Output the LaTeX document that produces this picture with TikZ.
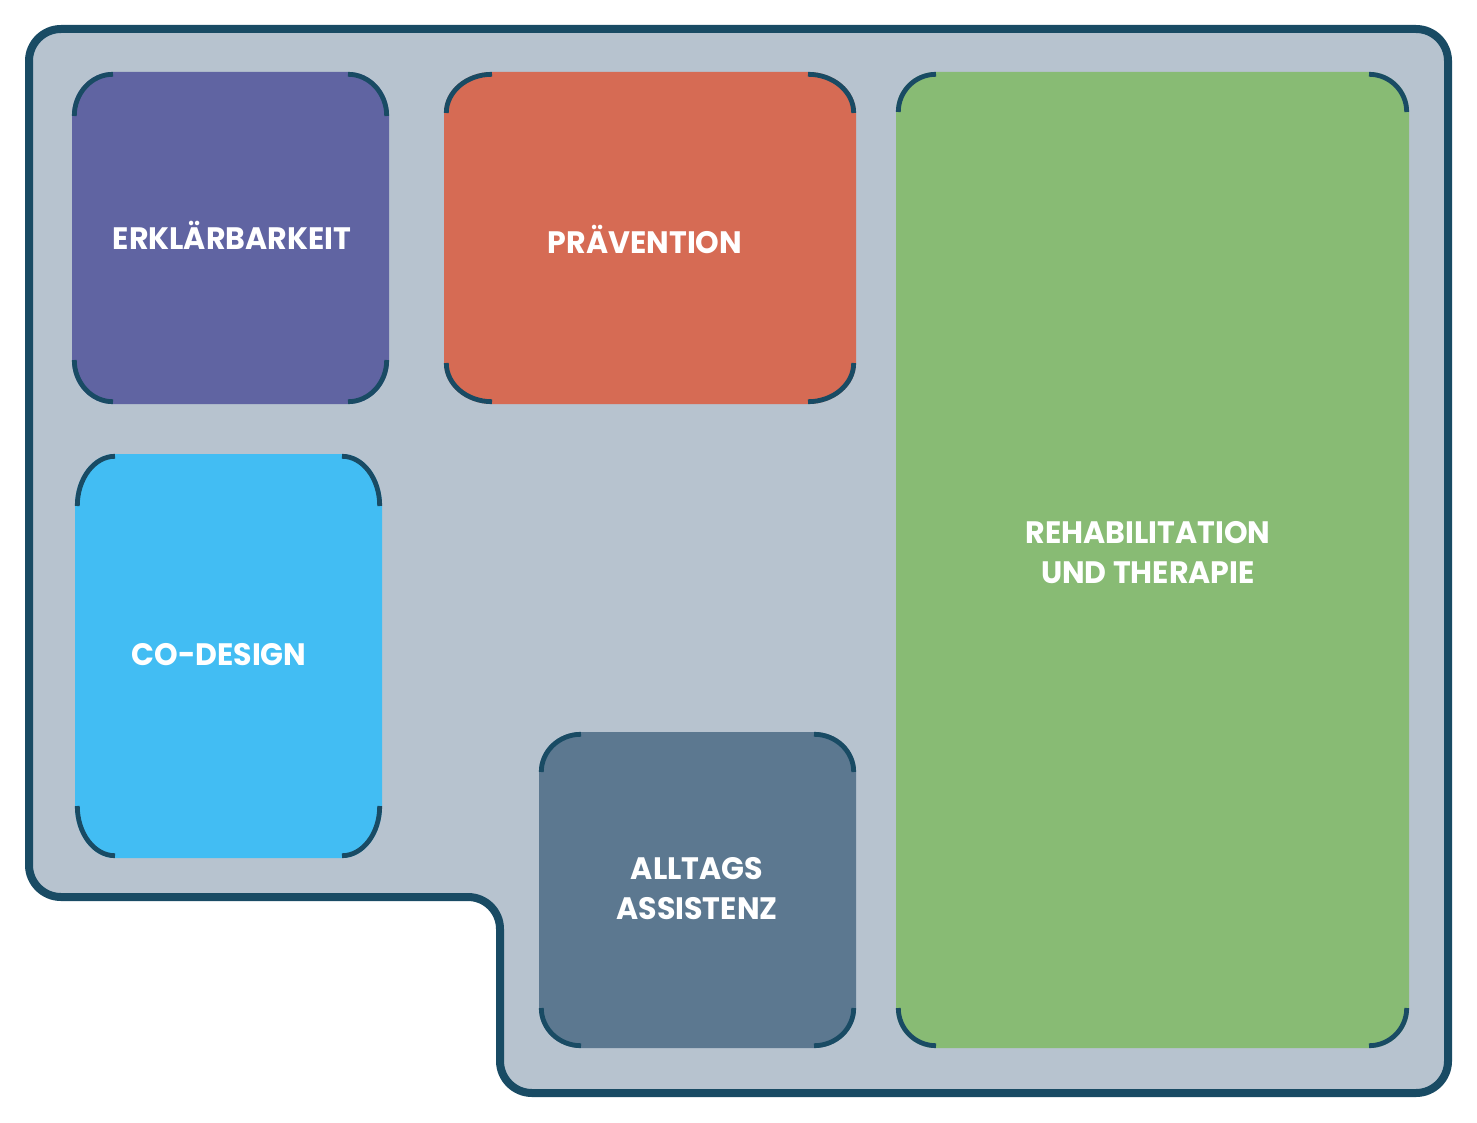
\documentclass[tikz,border=0pt]{standalone}
\usepackage{fontspec}
\newfontfamily\labfont{Poppins}
\definecolor{bgray}{RGB}{183,195,207}
\definecolor{dblue}{RGB}{25,75,100}
\definecolor{cpurple}{RGB}{96,100,162}
\definecolor{corange}{RGB}{214,107,84}
\definecolor{cgreen}{RGB}{136,187,116}
\definecolor{clblue}{RGB}{66,189,243}
\definecolor{cslate}{RGB}{92,120,144}
\tikzset{
  outline/.style={draw=dblue,fill=bgray,line width=8pt,rounded corners=32pt},
  bracket/.style={draw=dblue,line width=4.8pt},
  lab/.style={text=white,font=\labfont\bfseries\fontsize{31}{40}\selectfont,align=center,inner sep=0pt,xscale=0.97}
}
% #1 x1, #2 y1 (top), #3 x2, #4 y2 (bottom), #5 rx, #6 ry, #7 colour
\newcommand\cornerbox[7]{%
  \pgfmathsetmacro\qax{#1+#5}\pgfmathsetmacro\qbx{#3-#5}%
  \pgfmathsetmacro\qay{#2+#6}\pgfmathsetmacro\qby{#4-#6}%
  \pgfmathsetmacro\qcx{#1+0.4477*#5}\pgfmathsetmacro\qdx{#3-0.4477*#5}%
  \pgfmathsetmacro\qcy{#2+0.4477*#6}\pgfmathsetmacro\qdy{#4-0.4477*#6}%
  \fill[#7] (\qax,#2) -- (\qbx,#2) .. controls (\qdx,#2) and (#3,\qcy) .. (#3,\qay)
     -- (#3,\qby) .. controls (#3,\qdy) and (\qdx,#4) .. (\qbx,#4)
     -- (\qax,#4) .. controls (\qcx,#4) and (#1,\qdy) .. (#1,\qby)
     -- (#1,\qay) .. controls (#1,\qcy) and (\qcx,#2) .. (\qax,#2) -- cycle;
  % inset brackets
  \pgfmathsetmacro\ia{#1+2.3}\pgfmathsetmacro\ib{#3-2.3}%
  \pgfmathsetmacro\ic{#2+2.3}\pgfmathsetmacro\id{#4-2.3}%
  \pgfmathsetmacro\irx{#5-2.3}\pgfmathsetmacro\iry{#6-2.3}%
  \pgfmathsetmacro\rax{\ia+\irx}\pgfmathsetmacro\rbx{\ib-\irx}%
  \pgfmathsetmacro\ray{\ic+\iry}\pgfmathsetmacro\rby{\id-\iry}%
  \pgfmathsetmacro\rcx{\ia+0.4477*\irx}\pgfmathsetmacro\rdx{\ib-0.4477*\irx}%
  \pgfmathsetmacro\rcy{\ic+0.4477*\iry}\pgfmathsetmacro\rdy{\id-0.4477*\iry}%
  \draw[bracket] (\rbx,\ic) .. controls (\rdx,\ic) and (\ib,\rcy) .. (\ib,\ray);
  \draw[bracket] (\ib,\rby) .. controls (\ib,\rdy) and (\rdx,\id) .. (\rbx,\id);
  \draw[bracket] (\rax,\id) .. controls (\rcx,\id) and (\ia,\rdy) .. (\ia,\rby);
  \draw[bracket] (\ia,\ray) .. controls (\ia,\rcy) and (\rcx,\ic) .. (\rax,\ic);
}
\begin{document}
\begin{tikzpicture}[x=1pt,y=-1pt]
\useasboundingbox (0,0) rectangle (1477,1123);
\draw[outline] (700,29) -- (1448,29) -- (1448,1093) -- (500,1093) -- (500,897) -- (29,897) -- (29,29) -- cycle;
\cornerbox{72}{72}{389}{404}{41}{44}{cpurple}
\cornerbox{444}{72}{856}{404}{48}{41}{corange}
\cornerbox{896}{72}{1409}{1048}{40}{40}{cgreen}
\cornerbox{75}{454}{382}{858}{40}{52}{clblue}
\cornerbox{539}{732}{856}{1048}{42}{40}{cslate}
\node[lab] (erk) at (232,235) {ERKLÄRBARKEIT};
\node[lab] (prae) at (645,239) {PRÄVENTION};
\node[lab] (reha) at (1148,553) {REHABILITATION\\UND THERAPIE};
\node[lab] (code) at (219,655) {CO-DESIGN};
\node[lab] (allt) at (697,889) {ALLTAGS\\ASSISTENZ};
\end{tikzpicture}
\end{document}
